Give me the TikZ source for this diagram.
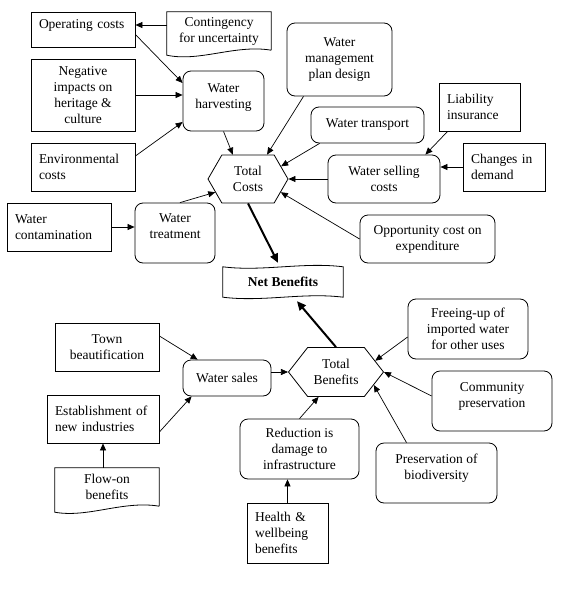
\documentclass[tikz,border=0pt]{standalone}
\usepackage{fontspec}
\setmainfont{Liberation Serif}
\usetikzlibrary{arrows.meta,shapes.symbols}

\begin{document}
\begin{tikzpicture}[
  x=1pt, y=-1pt,
  every node/.style={font=\fontsize{13.5}{16}\selectfont, inner sep=0pt},
  box/.style={draw, line width=0.8pt, align=center},
  lbox/.style={draw, line width=0.8pt, align=left, inner xsep=8pt},
  rbox/.style={box, rounded corners=8pt},
  docbox/.style={align=center},
  hexbox/.style={draw, line width=0.8pt, align=center, signal,
    signal to=west and east, signal pointer angle=#1},
  outline/.style={line width=0.8pt},
  arr/.style={line width=0.7pt, -{Triangle[length=7pt,width=6pt]}},
  bigarr/.style={line width=2pt, -{Triangle[length=9pt,width=8pt]}}
]
  \useasboundingbox (0,0) rectangle (588,600);

  % costs side
  \node[lbox, minimum width=104pt, minimum height=35pt, text width=88pt, text depth=10pt] (opcost) at (83,29.5) {Operating costs};
  \node[docbox, minimum width=104pt, minimum height=38pt] (conting) at (219,31) {Contingency\\for uncertainty};
  \draw[outline] (conting.south east) -- (conting.north east) -- (conting.north west)
    -- ([yshift=-5pt]conting.south west)
    .. controls ([shift={(33pt,-12pt)}]conting.south west) and ([shift={(-36pt,6pt)}]conting.south east) .. (conting.south east);
  \node[box, minimum width=104pt, minimum height=72pt] (negimp) at (83,95) {Negative\\impacts on\\heritage \&\\culture};
  \node[lbox, minimum width=104pt, minimum height=48pt, text width=88pt] (envcost) at (83,167) {Environmental\\costs};
  \node[rbox, minimum width=81pt, minimum height=60pt, text depth=9pt] (wharv) at (223.5,101) {Water\\harvesting};
  \node[rbox, minimum width=105pt, minimum height=73pt] (wmpd) at (339.5,59.5) {Water\\management\\plan design};
  \node[rbox, minimum width=113pt, minimum height=36pt] (wtrans) at (367.5,125) {Water transport};
  \node[lbox, minimum width=81pt, minimum height=48pt, text width=65pt] (liab) at (479.5,107) {Liability\\insurance};
  \node[lbox, minimum width=82pt, minimum height=48pt, text width=66pt] (demand) at (504,167) {Changes in\\demand};
  \node[rbox, minimum width=112pt, minimum height=48pt] (wsell) at (384,179) {Water selling\\costs};
  \node[rbox, minimum width=135pt, minimum height=48pt] (oppcost) at (427.5,239) {Opportunity cost on\\expenditure};
  \node[lbox, minimum width=104pt, minimum height=48pt, text width=88pt] (wcont) at (59,227) {Water\\contamination};
  \node[rbox, minimum width=80pt, minimum height=60pt, text depth=14pt] (wtreat) at (175,233) {Water\\treatment};
  \node[hexbox=120, minimum width=80pt, minimum height=48pt] (tcost) at (248,179) {Total\\Costs};

  \draw[arr] ([yshift=6pt]conting.west) -- ([yshift=6pt]conting.west -| opcost.east);
  \draw[arr] ([yshift=-5pt]opcost.east) -- ([yshift=18pt]wharv.west);
  \draw[arr] (negimp.east) -- (negimp.east -| wharv.west);
  \draw[arr] ([yshift=11pt]envcost.east) -- ([yshift=-21pt]wharv.west);
  \draw[arr] (wharv.south) -- (tcost.122);
  \draw[arr] ([xshift=-36pt]wmpd.south) -- (tcost.52);
  \draw[arr] ([xshift=9pt]wtrans.south west) -- (tcost.21);
  \draw[arr] ([xshift=9pt]liab.south west) -- ([xshift=-15pt]wsell.north east);
  \draw[arr] (demand.west) -- (demand.west -| wsell.east);
  \draw[arr] (wsell.west) -- (tcost.east);
  \draw[arr] (oppcost.west) -- (tcost.-22);
  \draw[arr] (wcont.east) -- (wcont.east -| wtreat.west);
  \draw[arr] ([xshift=5pt]wtreat.north) -- (tcost.202);

  % net benefits
  \node[font=\fontsize{13.5}{16}\selectfont\bfseries, minimum width=120pt, minimum height=30pt] (netben) at (283,282) {Net Benefits};
  \draw[outline] (netben.north west)
    .. controls ([shift={(40pt,-5pt)}]netben.north west) and ([shift={(-40pt,5pt)}]netben.north east) .. (netben.north east)
    -- (netben.south east)
    .. controls ([shift={(-40pt,5pt)}]netben.south east) and ([shift={(40pt,-5pt)}]netben.south west) .. (netben.south west)
    -- cycle;

  % benefits side
  \node[box, minimum width=104pt, minimum height=48pt] (town) at (107,347) {Town\\beautification};
  \node[rbox, minimum width=88pt, minimum height=36pt] (wsales) at (227,378) {Water sales};
  \node[lbox, minimum width=112pt, minimum height=48pt, text width=96pt] (estab) at (103,419) {Establishment of\\new industries};
  \node[docbox, minimum width=104pt, minimum height=38pt] (flowon) at (107,487) {Flow-on\\benefits};
  \draw[outline] (flowon.south east) -- (flowon.north east) -- (flowon.north west)
    -- ([yshift=-6pt]flowon.south west)
    .. controls ([shift={(33pt,-12pt)}]flowon.south west) and ([shift={(-36pt,6pt)}]flowon.south east) .. (flowon.south east);
  \node[hexbox=104, minimum width=95pt, minimum height=49pt] (tben) at (336,372) {Total\\Benefits};
  \node[rbox, minimum width=119pt, minimum height=60pt] (reduce) at (299.5,449) {Reduction is\\damage to\\infrastructure};
  \node[lbox, minimum width=81pt, minimum height=60pt, text width=65pt] (health) at (287.5,533) {Health \&\\wellbeing\\benefits};
  \node[rbox, minimum width=120pt, minimum height=60pt] (freeing) at (468,329) {Freeing-up of\\imported water\\for other uses};
  \node[rbox, minimum width=120pt, minimum height=60pt, text depth=12pt] (commun) at (492,401) {Community\\preservation};
  \node[rbox, minimum width=121pt, minimum height=60pt, text depth=13pt] (biodiv) at (436.5,473) {Preservation of\\biodiversity};

  \draw[arr] ([yshift=11pt]town.east) -- ([xshift=15pt]wsales.north west);
  \draw[arr] ([yshift=-13pt]estab.east) -- ([xshift=9pt]wsales.south west);
  \draw[arr] (estab.south |- flowon.north) -- (estab.south);
  \draw[arr] (tben.west -| wsales.east) -- (tben.west);
  \draw[arr] (reduce.north) -- (tben.235);
  \draw[arr] (health.north) -- (health.north |- reduce.south);
  \draw[arr] ([yshift=-8pt]freeing.west) -- (tben.16);
  \draw[arr] ([yshift=5pt]commun.west) -- (tben.east);
  \draw[arr] ([xshift=-30pt]biodiv.north) -- (tben.-19);

  \draw[bigarr] (tcost.south) -- ([xshift=-5pt,yshift=4pt]netben.north);
  \draw[bigarr] (tben.north) -- ([xshift=14pt,yshift=-4pt]netben.south);
\end{tikzpicture}
\end{document}
